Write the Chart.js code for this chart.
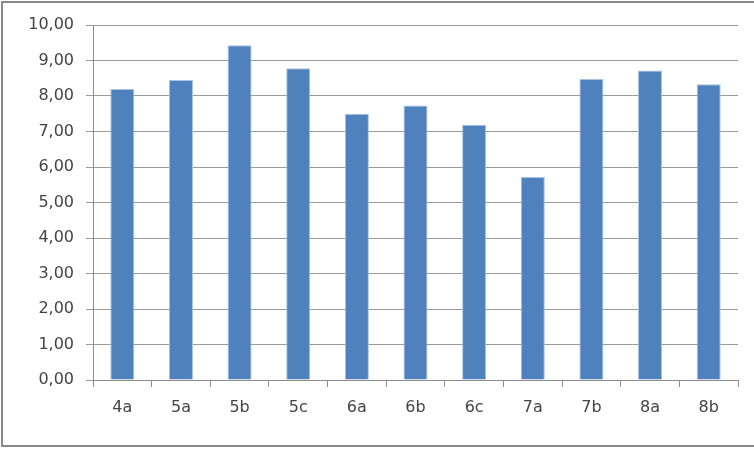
<!DOCTYPE html>
<html>
<head>
<meta charset="utf-8">
<script src="https://cdn.jsdelivr.net/npm/chart.js@4/dist/chart.umd.min.js"></script>
<style>
html,body{margin:0;padding:0;background:#fff;overflow:hidden;font-family:"DejaVu Sans";}
canvas{display:block;}
</style>
</head>
<body>
<div style="font-family:'DejaVu Sans';position:absolute;left:-1000px;">0,00 4a</div>
<canvas id="c" width="754" height="454"></canvas>
<script>
const categories = ["4a","5a","5b","5c","6a","6b","6c","7a","7b","8a","8b"];
const values = [8.20, 8.45, 9.43, 8.78, 7.50, 7.73, 7.19, 5.72, 8.48, 8.72, 8.33];
const yTicks = [0,1,2,3,4,5,6,7,8,9,10];

const framePlugin = {
  id: 'frame',
  afterDraw(chart) {
    const c = chart.ctx;
    c.save();
    c.strokeStyle = '#898989';
    c.lineWidth = 2;
    c.beginPath();
    c.moveTo(800, 2); c.lineTo(2, 2); c.lineTo(2, 446); c.lineTo(800, 446);
    c.stroke();
    c.restore();
  }
};

function draw() {
  const ctx = document.getElementById('c').getContext('2d');
  new Chart(ctx, {
    type: 'bar',
    data: {
      labels: categories,
      datasets: [{
        data: values,
        backgroundColor: '#4F81BD',
        borderColor: '#A9C2E3',
        borderWidth: {left:1, right:1, top:1, bottom:0},
        borderSkipped: 'bottom',
        categoryPercentage: 1,
        barPercentage: 0.41
      }]
    },
    options: {
      responsive: false,
      animation: false,
      events: [],
      layout: { padding: { left: 0, right: 16, top: 25, bottom: 0 } },
      plugins: { legend: { display: false }, tooltip: { enabled: false } },
      scales: {
        x: {
          grid: { display: true, drawOnChartArea: false, offset: true, color: '#8c8c8c', tickLength: 7, lineWidth: 1 },
          border: { color: '#8c8c8c', width: 1 },
          ticks: { color: '#444', font: { family: "'DejaVu Sans'", size: 16 }, padding: 11, maxRotation: 0 },
          afterFit: s => { s.height = 74; }
        },
        y: {
          min: 0, max: 10,
          afterBuildTicks: s => { s.ticks = yTicks.map(v => ({ value: v })); },
          grid: { color: '#9a9a9a', tickLength: 7, lineWidth: 1 },
          border: { color: '#8c8c8c', width: 1 },
          ticks: {
            color: '#444', font: { family: "'DejaVu Sans'", size: 16 }, padding: 12,
            callback: v => v.toFixed(2).replace('.', ',')
          },
          afterFit: s => { s.width = 93; }
        }
      }
    },
    plugins: [framePlugin]
  });
}
if (document.fonts && document.fonts.load) {
  document.fonts.load("16px 'DejaVu Sans'").then(draw, draw);
} else { draw(); }
</script>
</body>
</html>
